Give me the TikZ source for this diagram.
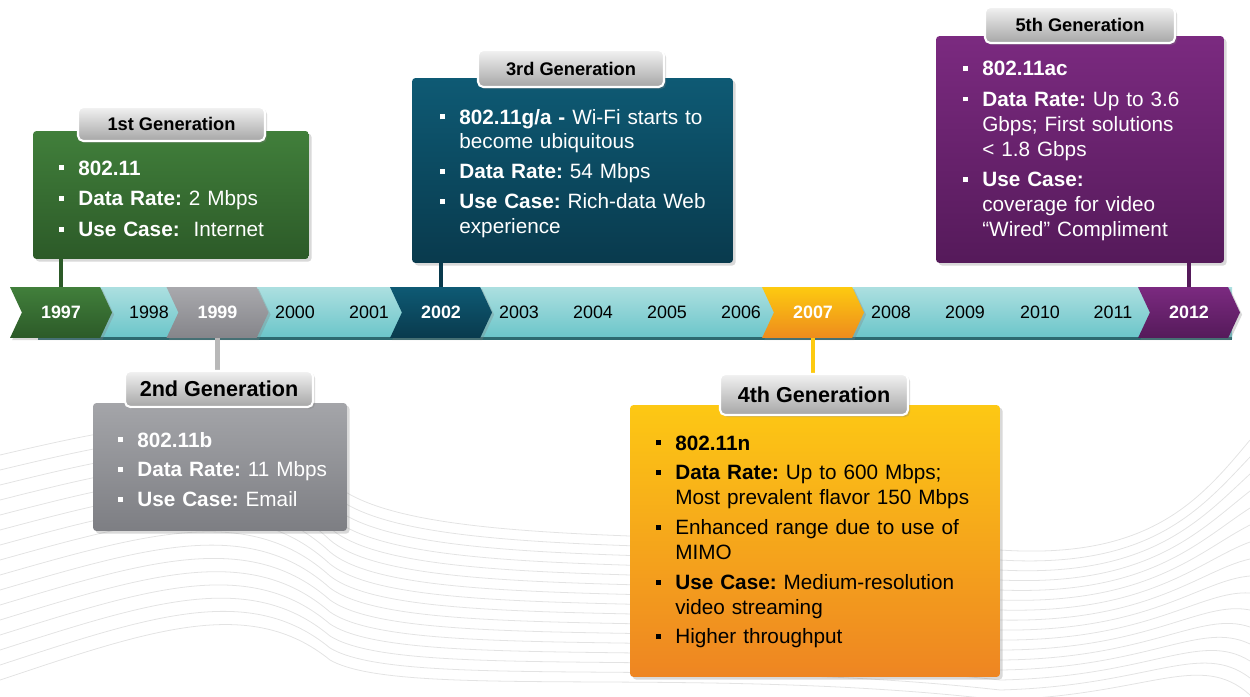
\documentclass[tikz,border=0pt]{standalone}
\usepackage{fontspec}
\setmainfont{Liberation Sans}
\usetikzlibrary{shapes.symbols, shadows}

\definecolor{tgrn}{HTML}{417F3B}
\definecolor{bgrn}{HTML}{2C5A28}
\definecolor{tgry}{HTML}{A9A9AD}
\definecolor{bgry}{HTML}{85858A}
\definecolor{tteal}{HTML}{0E5A74}
\definecolor{bteal}{HTML}{093A4D}
\definecolor{tamb}{HTML}{FDCA10}
\definecolor{bamb}{HTML}{EE8B1D}
\definecolor{tpur}{HTML}{7B2A80}
\definecolor{bpur}{HTML}{551A5A}
\definecolor{tbox4}{HTML}{FDC814}
\definecolor{bbox4}{HTML}{EE8522}
\definecolor{tbox2}{HTML}{A4A5A9}
\definecolor{bbox2}{HTML}{7D7E83}
\definecolor{bandtop}{HTML}{ACDFE0}
\definecolor{bandbot}{HTML}{6AC5C9}
\definecolor{bandedge}{HTML}{2D6A70}
\definecolor{tabtop}{HTML}{F2F2F2}
\definecolor{tabbot}{HTML}{A6A6A6}

\newcommand{\bul}{\makebox[10.8pt][l]{\raisebox{2.7pt}{\rule{2.8pt}{2.8pt}}}}
\newcommand{\ind}{\hspace*{10.8pt}}
\frenchspacing

\begin{document}
\begin{tikzpicture}
		[
			x=0.02cm, y=-0.02cm,
			chev/.style={signal, signal from=west, signal to=east, signal pointer angle=130,
				minimum width=2.04cm, minimum height=1.02cm, inner sep=0pt, text=white,
				font=\fontsize{10.2}{12}\selectfont\bfseries,
				drop shadow={opacity=0.3, shadow xshift=1.2pt, shadow yshift=-1.2pt}},
			yearlbl/.style={font=\fontsize{10.2}{12}\selectfont, inner sep=0pt},
			genbox/.style={rectangle, rounded corners=2pt,
				drop shadow={opacity=0.3, shadow xshift=1.5pt, shadow yshift=-1.5pt}},
			tab/.style={rectangle, rounded corners=3pt, draw=white, line width=1.2pt,
				top color=tabtop, bottom color=tabbot, inner sep=0pt,
				drop shadow={opacity=0.3, shadow xshift=1.2pt, shadow yshift=-1.2pt}},
			tabsmall/.style={font=\fontsize{10.4}{12}\selectfont\bfseries},
			tabbig/.style={font=\fontsize{12.3}{14}\selectfont\bfseries},
			txt/.style={anchor=base west, inner sep=0pt, text width=8cm, align=left,
				text=white, font=\fontsize{11.8}{14.17}\selectfont},
			link/.style={line width=2.3pt},
			wave/.style={black!11, line width=0.45pt},
		]

		\useasboundingbox (0,0) rectangle (1250,696);

		% Background waves
		\begin{scope}
			\clip (0,0) rectangle (1250,696);
			\foreach \k in {0,...,15}
				\draw[wave] (0,{455+15*\k}) .. controls (150,{420+14*\k}) and (250,{400+13*\k}) .. (330,{480+12*\k})
					.. controls (400,{550+10*\k}) and (700,{530+9*\k}) .. (1000,{550+10*\k})
					.. controls (1150,{560+9*\k}) and (1200,{500+10*\k}) .. (1250,{440+17*\k});
		\end{scope}

		% Timeline band
		\node[rectangle, inner sep=0pt, minimum width=23.88cm, minimum height=1.02cm,
			top color=bandtop, bottom color=bandbot, anchor=north west] (band) at (38,287) {};
		\draw[bandedge, line width=2pt] (band.south west) -- (band.south east);

		% Plain years
		\foreach \yr/\x in
		{
			1998/149, 2000/295, 2001/369, 2003/519, 2004/593, 2005/667,
			2006/741, 2008/891, 2009/965, 2010/1040, 2011/1113}
			\node[yearlbl] (y\yr) at (\x,312.5) {\yr};

		% Highlighted years
		\foreach \yr/\x/\c in
		{
			1997/61/grn,
			1999/217.5/gry,
			2002/441/teal,
			2007/813/amb,
			2012/1189/pur}
			\node[chev, top color=t\c, bottom color=b\c] (y\yr) at (\x,312.5) {\yr};

		% Boxes
		\foreach \name/\x/\y/\w/\h/\c in
		{
			gen1/171/195/5.52/2.56/grn,
			gen2/220/467/5.08/2.56/box2,
			gen3/572.5/170.5/6.42/3.70/teal,
			gen4/815/541/7.40/5.44/box4,
			gen5/1080/149.5/5.76/4.54/pur}
			\node[genbox, minimum width=\w cm, minimum height=\h cm, top color=t\c, bottom color=b\c]
				(\name) at (\x,\y) {};

		% Links
		\draw[link, bgrn] (y1997.north) -- (y1997.north |- gen1.south);
		\draw[link, black!28] (y1999.south) -- (y1999.south |- gen2.north);
		\draw[link, bteal] (y2002.north) -- (y2002.north |- gen3.south);
		\draw[link, tamb] (y2007.south) -- (y2007.south |- gen4.north);
		\draw[link, bpur] (y2012.north) -- (y2012.north |- gen5.south);

		% Tabs
		\node[tab, tabsmall, minimum width=3.74cm, minimum height=0.68cm] (tab1) at (171.5,124) {1st Generation};
		\node[tab, tabbig, minimum width=3.76cm, minimum height=0.72cm] (tab2) at (219,389) {2nd Generation};
		\node[tab, tabsmall, minimum width=3.72cm, minimum height=0.74cm] (tab3) at (571,68.5) {3rd Generation};
		\node[tab, tabbig, minimum width=3.76cm, minimum height=0.82cm] (tab4) at (814,394.5) {4th Generation};
		\node[tab, tabsmall, minimum width=3.80cm, minimum height=0.72cm] (tab5) at (1080,25) {5th Generation};

		% Texts
		\node[txt] (txt1) at (59,175) {%
			\bul\textbf{802.11}\\[3.4pt]
			\bul\textbf{Data Rate:} 2 Mbps\\[3.4pt]
			\bul\textbf{Use Case:}~ Internet};
		\node[txt] (txt2) at (118,447) {%
			\bul\textbf{802.11b}\\[2.8pt]
			\bul\textbf{Data Rate:} 11 Mbps\\[2.8pt]
			\bul\textbf{Use Case:} Email};
		\node[txt] (txt3) at (440,124) {%
			\bul\textbf{802.11g/a -} Wi-Fi starts to\\
			\ind become ubiquitous\\[2.8pt]
			\bul\textbf{Data Rate:} 54 Mbps\\[2.8pt]
			\bul\textbf{Use Case:} Rich-data Web\\
			\ind experience};
		\node[txt, text=black] (txt4) at (656,450) {%
			\bul\textbf{802.11n}\\[2.8pt]
			\bul\textbf{Data Rate:} Up to 600 Mbps;\\
			\ind Most prevalent flavor 150 Mbps\\[2.8pt]
			\bul Enhanced range due to use of\\
			\ind MIMO\\[2.8pt]
			\bul\textbf{Use Case:} Medium-resolution\\
			\ind video streaming\\[2.8pt]
			\bul Higher throughput};
		\node[txt] (txt5) at (963,75.7) {%
			\bul\textbf{802.11ac}\\[3.2pt]
			\bul\textbf{Data Rate:} Up to 3.6\\
			\ind Gbps; First solutions\\
			\ind < 1.8 Gbps\\[3.2pt]
			\bul\textbf{Use Case:}\\
			\ind coverage for video\\
			\ind “Wired” Compliment};

		\end{tikzpicture}
\end{document}
